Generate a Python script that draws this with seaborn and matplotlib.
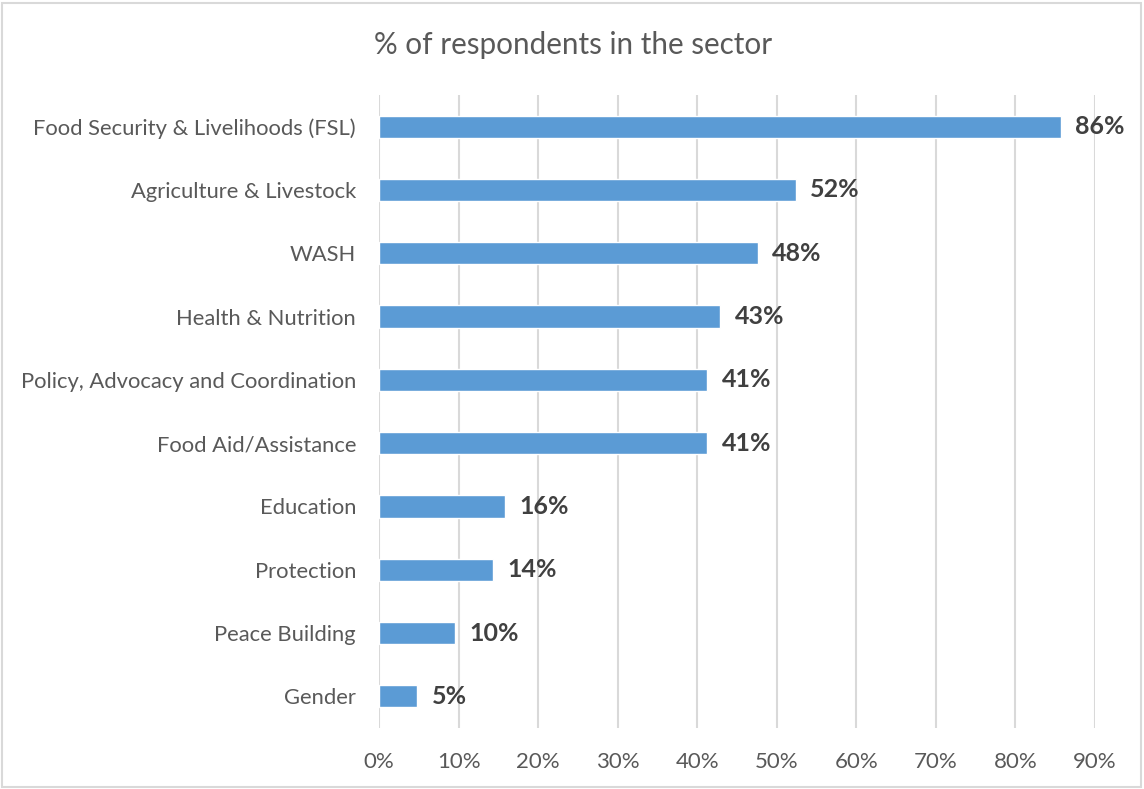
import matplotlib
matplotlib.use("Agg")
import matplotlib.pyplot as plt
from matplotlib.patches import Rectangle
import seaborn as sns
import pandas as pd

# Share of respondents (n = 63) working in each sector
sectors = [
    "Food Security & Livelihoods (FSL)",
    "Agriculture & Livestock",
    "WASH",
    "Health & Nutrition",
    "Policy, Advocacy and Coordination",
    "Food Aid/Assistance",
    "Education",
    "Protection",
    "Peace Building",
    "Gender",
]
respondents = [54, 33, 30, 27, 26, 26, 10, 9, 6, 3]
total_respondents = 63
shares = [100 * r / total_respondents for r in respondents]
x_ticks = [0, 10, 20, 30, 40, 50, 60, 70, 80, 90]

df = pd.DataFrame({"sector": sectors, "share": shares})

sns.set_theme(style="white")
plt.rcParams["font.family"] = ["Lato", "DejaVu Sans"]

W, H = 1144, 789
fig = plt.figure(figsize=(W / 100, H / 100), dpi=100)
ax = fig.add_axes([379 / W, 1 - 728 / H, (1095 - 379) / W, (728 - 95) / H])

sns.barplot(data=df, y="sector", x="share", orient="h", color="#5b9bd5",
            saturation=1, width=0.35, ax=ax, zorder=3)

ax.set_xlim(0, 90)
ax.set_xticks(x_ticks)
ax.set_xticklabels([f"{t}%" for t in x_ticks])
ax.xaxis.grid(True, color="#d9d9d9", linewidth=1.5, zorder=0)
ax.set_axisbelow(True)
for s in ax.spines.values():
    s.set_visible(False)
ax.set_xlabel("")
ax.set_ylabel("")
ax.tick_params(axis="x", length=0, pad=17, labelsize=16, labelcolor="#595959")
ax.tick_params(axis="y", length=0, pad=16.5, labelsize=15.8, labelcolor="#595959")

# Value labels at the end of each bar
for container in ax.containers:
    ax.bar_label(container, labels=[f"{v:.0f}%" for v in container.datavalues],
                 padding=10.5, fontsize=18, fontweight="bold", color="#404040")

fig.text(573 / W, 1 - 45 / H, "% of respondents in the sector",
         ha="center", va="center", fontsize=21.3, color="#595959")

# Light chart-area border
fig.patches.append(Rectangle((2 / W, 2 / H), (W - 5) / W, (H - 5) / H,
                             transform=fig.transFigure, fill=False,
                             edgecolor="#d9d9d9", linewidth=1.5))

fig.savefig("out.png", dpi=100)
